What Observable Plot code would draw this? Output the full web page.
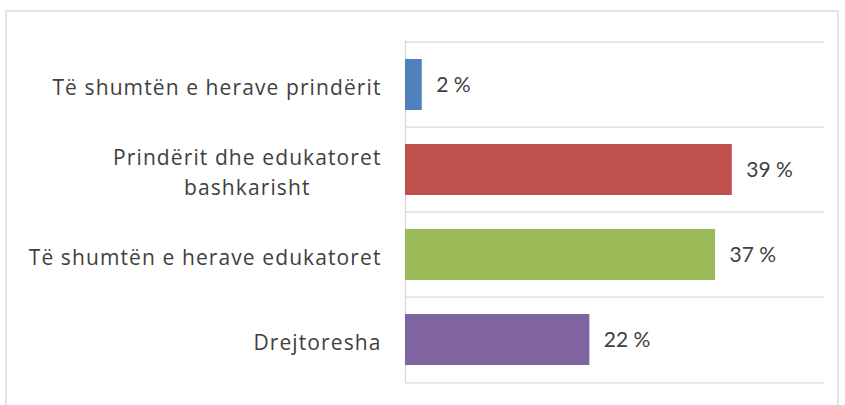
<!DOCTYPE html>
<html>
<head>
<meta charset="utf-8">
<script src="https://cdn.jsdelivr.net/npm/d3@7"></script>
<script src="https://cdn.jsdelivr.net/npm/@observablehq/plot@0.6"></script>
<style>
  html, body { margin: 0; padding: 0; background: #fff; }
  #wrap { position: relative; width: 845px; height: 405px; overflow: hidden; }
  #frame { position: absolute; left: 5px; top: 10px; width: 834px; height: 420px;
           border: 2px solid #e3e3e3; box-sizing: border-box; }
  #chart { position: absolute; left: 0; top: 0; }
  .catlabel text { letter-spacing: 1.1px; }
</style>
</head>
<body>
<div id="wrap"><div id="frame"></div><div id="chart"></div></div>
<script>
const categories = [
  "Të shumtën e herave prindërit",
  "Prindërit dhe edukatoret\nbashkarisht",
  "Të shumtën e herave edukatoret",
  "Drejtoresha"
];
const values = [2, 39, 37, 22];
const colors = ["#4f81bd", "#c0504d", "#9bbb59", "#8064a2"];

const data = categories.map((c, i) => ({category: c, value: values[i], color: colors[i]}));

const W = 845, H = 405;
const mTop = 40, mBottom = 22, mLeft = 405, mRight = 21;
const step = (H - mTop - mBottom) / categories.length;
const half = step / 2;

const plot = Plot.plot({
  width: W,
  height: H,
  marginTop: mTop,
  marginBottom: mBottom,
  marginLeft: mLeft,
  marginRight: mRight,
  style: {fontFamily: "Lato, 'Open Sans', sans-serif", background: "transparent"},
  x: {domain: [0, 50], axis: null},
  y: {domain: categories, paddingInner: 0.4, paddingOuter: 0.2, axis: null},
  marks: [
    Plot.ruleY(categories, {y: d => d, dy: -half, stroke: "#d9d9d9", strokeWidth: 1.3}),
    Plot.ruleY(categories.slice(-1), {y: d => d, dy: half, stroke: "#d9d9d9", strokeWidth: 1.3}),
    Plot.ruleX([0], {stroke: "#d9d9d9", strokeWidth: 1.3}),
    Plot.barX(data, {y: "category", x: "value", fill: "color"}),
    Plot.text(data, {y: "category", x: "value", text: d => d.value + " %", textAnchor: "start",
      dx: 14, fontSize: 21, fill: "#404040"}),
    Plot.text(data, {y: "category", x: 0, text: "category", textAnchor: "end",
      dx: -24, fontSize: 21, fill: "#404040", lineHeight: 1.43, className: "catlabel",
      fontFamily: "'Open Sans', sans-serif"})
  ]
});
document.getElementById("chart").appendChild(plot);

// Multi-line label: centre the lines relative to each other, keep the block right-aligned
plot.querySelectorAll(".catlabel text").forEach(t => {
  const spans = t.querySelectorAll("tspan");
  if (spans.length > 1) {
    const w = t.getBBox().width;
    t.setAttribute("text-anchor", "middle");
    spans.forEach(s => { if (s.hasAttribute("x")) s.setAttribute("x", +(s.getAttribute("x")) - w / 2); });
    if (!spans[0].hasAttribute("x")) t.setAttribute("transform", (t.getAttribute("transform") || "") + ` translate(${-w/2},0)`);
  }
});
</script>
</body>
</html>
